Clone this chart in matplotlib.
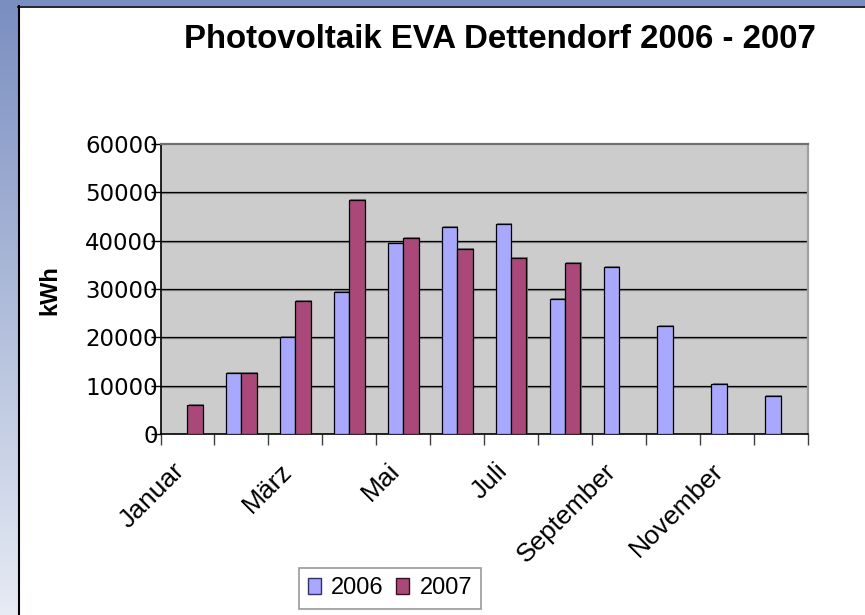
import numpy as np
import matplotlib
matplotlib.use("Agg")
import matplotlib.pyplot as plt
import matplotlib.patheffects as pe
from matplotlib.patches import Patch, Rectangle
from matplotlib.lines import Line2D
from matplotlib.transforms import ScaledTranslation

# Monthly yield, kWh
months = ["Januar", "Februar", "März", "April", "Mai", "Juni",
          "Juli", "August", "September", "Oktober", "November", "Dezember"]
kwh_2006 = [0, 12700, 20000, 29400, 39600, 42900,
            43400, 28000, 34600, 22400, 10300, 7900]
kwh_2007 = [6000, 12700, 27500, 48500, 40600, 38300, 36400, 35400]
yticks = [0, 10000, 20000, 30000, 40000, 50000, 60000]

col_2006 = "#A8A8FF"
col_2007 = "#AA4979"


def draw_background(fig):
    # blue strip at the top, gradient strip on the left
    fig.patches.append(Rectangle((0, 1 - 6 / 615), 1, 6 / 615, transform=fig.transFigure,
                                 facecolor="#7A8EC1", edgecolor="none", zorder=0))
    bg = fig.add_axes([0, 0, 18 / 865, 1 - 6 / 615], zorder=0)
    top = np.array(matplotlib.colors.to_rgb("#7B8FC1"))
    bottom = np.array(matplotlib.colors.to_rgb("#E6EBF4"))
    t = np.linspace(0, 1, 256)[:, None, None]
    grad = top * (1 - t) + bottom * t
    bg.imshow(grad, aspect="auto", extent=[0, 1, 0, 1])
    bg.set_axis_off()
    # black panel border
    fig.lines.append(Line2D([19 / 865, 19 / 865], [0, 1 - 6 / 615], transform=fig.transFigure,
                            color="black", lw=1.5))
    fig.lines.append(Line2D([18 / 865, 1], [1 - 6.5 / 615, 1 - 6.5 / 615], transform=fig.transFigure,
                            color="black", lw=1.2))


def create_chart():
    fig = plt.figure(figsize=(8.65, 6.15), dpi=100)
    draw_background(fig)

    ax = fig.add_axes([160.5 / 865, 1 - 434 / 615, 647.2 / 865, 290 / 615])
    ax.set_facecolor("#CCCCCC")

    x = np.arange(len(months))
    w = 0.2857
    shadow = [pe.SimplePatchShadow(offset=(0.8, 0.6), shadow_rgbFace="#707070", alpha=0.9), pe.Normal()]
    ax.bar(x - w / 2, kwh_2006, w, color=col_2006, edgecolor="black", linewidth=0.9,
           zorder=3, path_effects=shadow)
    ax.bar(x[:len(kwh_2007)] + w / 2, kwh_2007, w, color=col_2007, edgecolor="black",
           linewidth=0.9, zorder=3, path_effects=shadow)

    # gridlines with a soft shadow
    for y in yticks[1:-1]:
        ax.axhline(y, color="black", lw=0.9, zorder=1,
                   path_effects=[pe.SimpleLineShadow(offset=(0, -0.8), shadow_color="#888888", alpha=1),
                                 pe.Normal()])

    ax.set_xlim(-0.5, len(months) - 0.5)
    ax.set_ylim(0, 60000)

    ax.set_yticks(yticks)
    ax.set_yticklabels([str(v) for v in yticks], fontsize=16.5, family="DejaVu Sans")
    ax.tick_params(axis="y", length=7, width=1, pad=-5, color="black")

    ax.set_xticks(np.arange(-0.5, len(months)))
    ax.set_xticklabels([])
    ax.tick_params(axis="x", which="major", length=8, width=1, color="#404040")
    ax.set_xticks(x[::2], minor=True)
    ax.set_xticklabels(months[::2], minor=True, fontsize=19, family="Liberation Sans")
    ax.tick_params(axis="x", which="minor", length=0, pad=24)
    offset = ScaledTranslation(-7 / 100, 0, fig.dpi_scale_trans)
    for lab in ax.get_xticklabels(minor=True):
        lab.set_rotation(45)
        lab.set_ha("right")
        lab.set_va("center")
        lab.set_rotation_mode("anchor")
        lab.set_transform(lab.get_transform() + offset)

    for side in ["left", "bottom"]:
        ax.spines[side].set_color("black")
        ax.spines[side].set_linewidth(1.2)
    ax.spines["top"].set_color("#707070")
    ax.spines["top"].set_linewidth(1.6)
    ax.spines["right"].set_color("#A0A0A0")
    ax.spines["right"].set_linewidth(1.6)

    fig.text(500 / 865, 1 - 40 / 615, "Photovoltaik EVA Dettendorf 2006 - 2007",
             ha="center", va="center", fontsize=23.8, fontweight="bold", family="Liberation Sans")
    fig.text(50 / 865, 1 - 290 / 615, "kWh", rotation=90, ha="center", va="center",
             fontsize=17, fontweight="bold", family="Liberation Sans")

    handles = [Patch(facecolor=col_2006, edgecolor="#303070", label="2006"),
               Patch(facecolor=col_2007, edgecolor="#3A1020", label="2007")]
    leg = fig.legend(handles=handles, ncol=2, loc="center", bbox_to_anchor=(390 / 865, 1 - 588.5 / 615),
                     prop={"family": "Liberation Sans", "size": 17}, frameon=True, fancybox=False,
                     edgecolor="#808080", handlelength=0.55, handleheight=0.65, handletextpad=0.42,
                     columnspacing=0.55, borderpad=0.4, borderaxespad=0)
    leg.get_frame().set_linewidth(1.2)

    fig.savefig("out.png", dpi=100, facecolor="white")
    plt.close(fig)


if __name__ == "__main__":
    create_chart()
